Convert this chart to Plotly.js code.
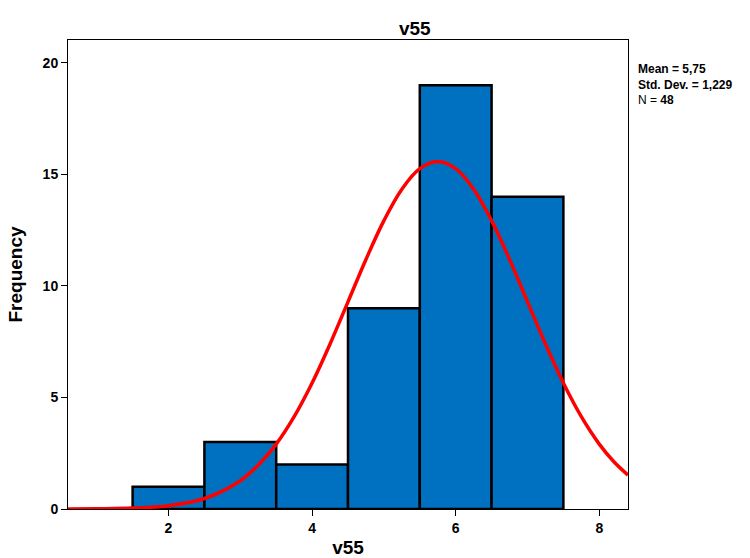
<!DOCTYPE html>
<html>
<head>
<meta charset="utf-8">
<script src="https://cdn.plot.ly/plotly-3.0.1.min.js"></script>
<style>html,body{margin:0;padding:0;background:#fff;}#chart{width:750px;height:558px;}</style>
</head>
<body>
<div id="chart"></div>
<script>
// Histogram bins (centres) and frequencies
const binCenters = [2, 3, 4, 5, 6, 7];
const frequencies = [1, 3, 2, 9, 19, 14];
// Normal curve
const curveX = [0.6, 1, 1.5, 2, 2.5, 3, 3.25, 3.5, 3.75, 4, 4.25, 4.5, 4.75, 5, 5.25, 5.5, 5.75, 6, 6.25, 6.5, 6.75, 7, 7.25, 7.5, 7.75, 8, 8.2, 8.4];
const curveY = [0.0, 0.01, 0.04, 0.15, 0.47, 1.27, 1.97, 2.91, 4.14, 5.65, 7.40, 9.29, 11.19, 12.93, 14.34, 15.26, 15.58, 15.26, 14.34, 12.93, 11.19, 9.29, 7.40, 5.65, 4.14, 2.91, 2.13, 1.52];
const xTicks = [2, 4, 6, 8];
const yTicks = [0, 5, 10, 15, 20];
const statsLines = ["<b>Mean = 5,75</b>", "<b>Std. Dev. = 1,229</b>", "N = <b>48</b>"];

const font = "Liberation Sans, Arial, sans-serif";

const traces = [
  {
    type: "bar",
    x: binCenters,
    y: frequencies,
    width: 1,
    marker: {color: "#0070C0", line: {color: "#000000", width: 2.5}},
    hoverinfo: "x+y"
  },
  {
    type: "scatter",
    mode: "lines",
    x: curveX,
    y: curveY,
    line: {color: "#FF0000", width: 3.5, shape: "spline", smoothing: 1},
    cliponaxis: true
  }
];

const layout = {
  width: 750,
  height: 558,
  margin: {l: 68, r: 122, t: 40, b: 49},
  paper_bgcolor: "#ffffff",
  plot_bgcolor: "#ffffff",
  showlegend: false,
  bargap: 0,
  font: {family: font, color: "#000"},
  title: {
    text: "<b>v55</b>",
    font: {family: font, size: 19, color: "#000"},
    xref: "container", x: 0.553, xanchor: "center",
    yref: "container", y: 1 - 28/558, yanchor: "middle"
  },
  xaxis: {
    range: [0.6, 8.4],
    tickvals: xTicks,
    ticktext: xTicks.map(v => "<b>" + v + "</b>"),
    ticks: "outside", ticklen: 6, tickwidth: 1, tickcolor: "#000",
    showline: true, linecolor: "#000", linewidth: 1, mirror: true,
    showgrid: false, zeroline: false,
    tickfont: {family: font, size: 14, color: "#000"},
    title: {text: "<b>v55</b>", font: {family: font, size: 19, color: "#000"}, standoff: 12}
  },
  yaxis: {
    range: [0, 21.03],
    tickvals: yTicks,
    ticktext: yTicks.map(v => "<b>" + v + "</b>"),
    ticks: "outside", ticklen: 6, tickwidth: 1, tickcolor: "#000",
    showline: true, linecolor: "#000", linewidth: 1, mirror: true,
    showgrid: false, zeroline: false,
    tickfont: {family: font, size: 14, color: "#000"},
    title: {text: "<b>Frequency</b>", font: {family: font, size: 19, color: "#000"}, standoff: 14}
  },
  annotations: [{
    xref: "paper", yref: "paper",
    x: 1.014, y: (509 - 60) / 469,
    xanchor: "left", yanchor: "top", align: "left",
    text: statsLines.join("<br>"),
    showarrow: false,
    font: {family: font, size: 12, color: "#000"}
  }]
};

Plotly.newPlot("chart", traces, layout, {displayModeBar: false, staticPlot: true});
</script>
</body>
</html>
